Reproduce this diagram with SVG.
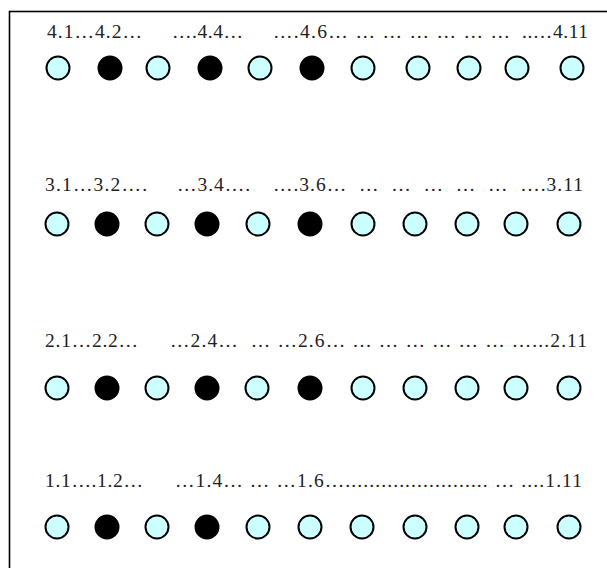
<svg xmlns="http://www.w3.org/2000/svg" width="607" height="568" viewBox="0 0 607 568">
<style>
.o{fill:#ccffff;stroke:#000;stroke-width:2}
.f{fill:#000;stroke:#000;stroke-width:2}
text{font-family:"Liberation Serif","Times New Roman",serif;font-size:19.5px;fill:#222}
</style>
<rect x="9.5" y="11.5" width="620" height="600" fill="#fff" stroke="#000" stroke-width="1.6"/>
<g id="labels">
<text x="47" y="38" textLength="95" lengthAdjust="spacing">4.1…4.2…</text>
<text x="172" y="38" textLength="71" lengthAdjust="spacing">….4.4…</text>
<text x="273" y="38" textLength="237" lengthAdjust="spacing" xml:space="preserve">….4.6… … … … … … …</text>
<text x="522" y="38" textLength="66" lengthAdjust="spacing">..…4.11</text>
<text x="45" y="191" textLength="102" lengthAdjust="spacing">3.1…3.2….</text>
<text x="177" y="191" textLength="73" lengthAdjust="spacing">…3.4….</text>
<text x="273" y="191" textLength="310" lengthAdjust="spacing" xml:space="preserve">….3.6…  …  …  …  …  …  ….3.11</text>
<text x="45" y="347" textLength="93" lengthAdjust="spacing">2.1…2.2…</text>
<text x="170" y="347" textLength="417" lengthAdjust="spacing" xml:space="preserve">…2.4…  … …2.6… … … … … … … …...2.11</text>
<text x="45" y="487" textLength="98" lengthAdjust="spacing">1.1….1.2…</text>
<text x="175" y="487" textLength="407" lengthAdjust="spacing" xml:space="preserve">…1.4… … …1.6…........................ … ....1.11</text>
</g>
<g id="row4">
<circle class="o" cx="58" cy="68" r="11.5"/><circle class="f" cx="110" cy="68" r="11.5"/><circle class="o" cx="158" cy="68" r="11.5"/><circle class="f" cx="210" cy="68" r="11.5"/><circle class="o" cx="260" cy="68" r="11.5"/><circle class="f" cx="312" cy="68" r="11.5"/><circle class="o" cx="363" cy="68" r="11.5"/><circle class="o" cx="418" cy="68" r="11.5"/><circle class="o" cx="469" cy="68" r="11.5"/><circle class="o" cx="517" cy="68" r="11.5"/><circle class="o" cx="572" cy="68" r="11.5"/>
</g>
<g id="row3">
<circle class="o" cx="57" cy="224" r="11.5"/><circle class="f" cx="107" cy="224" r="11.5"/><circle class="o" cx="157" cy="224" r="11.5"/><circle class="f" cx="207" cy="224" r="11.5"/><circle class="o" cx="258" cy="224" r="11.5"/><circle class="f" cx="310" cy="224" r="11.5"/><circle class="o" cx="363" cy="224" r="11.5"/><circle class="o" cx="415" cy="224" r="11.5"/><circle class="o" cx="467" cy="224" r="11.5"/><circle class="o" cx="516" cy="224" r="11.5"/><circle class="o" cx="569" cy="224" r="11.5"/>
</g>
<g id="row2">
<circle class="o" cx="57" cy="388" r="11.5"/><circle class="f" cx="107" cy="388" r="11.5"/><circle class="o" cx="157" cy="388" r="11.5"/><circle class="f" cx="207" cy="388" r="11.5"/><circle class="o" cx="257" cy="388" r="11.5"/><circle class="f" cx="310" cy="388" r="11.5"/><circle class="o" cx="363" cy="388" r="11.5"/><circle class="o" cx="415" cy="388" r="11.5"/><circle class="o" cx="467" cy="388" r="11.5"/><circle class="o" cx="516" cy="388" r="11.5"/><circle class="o" cx="569" cy="388" r="11.5"/>
</g>
<g id="row1">
<circle class="o" cx="57" cy="527" r="11.5"/><circle class="f" cx="107" cy="527" r="11.5"/><circle class="o" cx="157" cy="527" r="11.5"/><circle class="f" cx="207" cy="527" r="11.5"/><circle class="o" cx="258" cy="527" r="11.5"/><circle class="o" cx="310" cy="527" r="11.5"/><circle class="o" cx="362" cy="527" r="11.5"/><circle class="o" cx="415" cy="527" r="11.5"/><circle class="o" cx="467" cy="527" r="11.5"/><circle class="o" cx="516" cy="527" r="11.5"/><circle class="o" cx="569" cy="527" r="11.5"/>
</g>
</svg>
